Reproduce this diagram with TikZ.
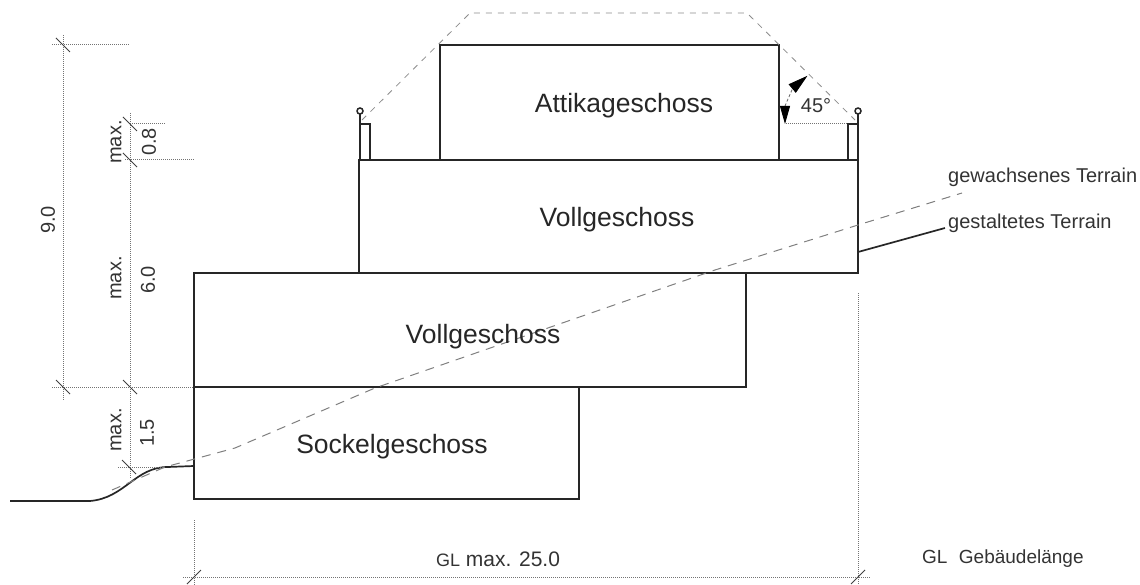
\documentclass[tikz,border=0pt]{standalone}
\usepackage{fontspec}
\setsansfont{Liberation Sans}
\tikzset{every picture/.style={/utils/exec={\sffamily}}}
\usetikzlibrary{arrows.meta}
\tikzset{
  wall/.style={line width=1.7pt, black!85},
  dimline/.style={line width=1pt, densely dotted, black!55},
  roofline/.style={line width=.8pt, dash pattern=on 6pt off 6pt, black!45},
  terrainline/.style={line width=1pt, dash pattern=on 9pt off 7pt, black!50},
  dimtick/.style={line width=1pt, black!75},
  bigtext/.style={font=\fontsize{26.5}{26.5}\selectfont, text=black!85},
  smalltext/.style={font=\fontsize{20}{20}\selectfont, text=black!80},
  dimtext/.style={font=\fontsize{20}{20}\selectfont, text=black!80, rotate=90}
}
\begin{document}
\begin{tikzpicture}[x=1pt, y=-1pt]
  \useasboundingbox (0,0) rectangle (1140,585);

  % storeys
  \draw [wall] (194,387) rectangle (579,499);
  \draw [wall] (194,273) rectangle (746,387);
  \draw [wall] (359,160) rectangle (858,273);
  \draw [wall] (440,45) rectangle (779,160);

  % parapets and posts
  \foreach \n in {360,848} \draw [line width=1.2pt, black!85] (\n,160) |- (\n+10,124) -- (\n+10,160);
  \foreach \n in {360,858} {
    \draw [line width=1.2pt, black!85] (\n,124) -- (\n,114);
    \draw [line width=1.5pt, black!85] (\n,111) circle [radius=3pt];
  }

  % terrain
  \draw [wall] (10,501) -- (90,501) .. controls (125,498) and (135,467) .. (168,467) -- (194,466);
  \coordinate (shaped) at (945,228);
  \draw [wall] (858,252) -- (shaped);
  \draw [terrainline] (112,490) -- (165,467) -- (235,448) -- (375,388) -- (715,270) -- (858,225) -- (962,193);

  % roof profile
  \draw [roofline] (362,120) -- (470,13) -- (747,13) -- (855,120);
  \draw [dimline] (786,124) -- (848,124);
  \draw [line width=.8pt, densely dashed, black!60, {Triangle[length=18pt,width=10pt,black]}-{Triangle[length=20pt,width=11pt,black]}]
    (785,124) arc [start angle=180, end angle=130, radius=63pt];

  % dimension lines
  \draw [dimline] (63,35) -- (63,400);
  \draw [dimline] (130,113) -- (130,478);
  \draw [dimline] (194,520) -- (194,585);
  \draw [dimline] (858,293) -- (858,585);
  \draw [dimline] (52,45) -- (130,45);
  \draw [dimline] (130,124) -- (165,124);
  \draw [dimline] (125,160) -- (195,160);
  \draw [dimline] (52,387) -- (194,387);
  \draw [dimline] (118,467) -- (165,467);
  \draw [dimline] (183,577) -- (870,577);

  \foreach \n in {(63,45),(130,124),(130,160),(63,387),(130,387),(129,467)}
    \draw [dimtick, shift={\n}] (-7,-7) -- (7,7);
  \foreach \n in {(194,577),(858,577)}
    \draw [dimtick, shift={\n}] (-7,7) -- (7,-7);

  % labels
  \node [bigtext] (attika) at (624,106) {Attikageschoss};
  \node [bigtext] (upper) at (617,220) {Vollgeschoss};
  \node [bigtext] (lower) at (483,337) {Vollgeschoss};
  \node [bigtext] (sockel) at (392,447) {Sockelgeschoss};

  \node [dimtext] (total) at (48,220) {9.0};
  \node [dimtext] (maxa) at (116,142) {max.};
  \node [dimtext] (parapet) at (149,142) {0.8};
  \node [dimtext] (maxb) at (116,278) {max.};
  \node [dimtext] (height) at (148,280) {6.0};
  \node [dimtext] (maxc) at (116,430) {max.};
  \node [dimtext] (base) at (147,433) {1.5};

  \node [smalltext] (angle) at (816,106) {45°};
  \node [smalltext, right, inner sep=0pt] (grown) at (948,177) {gewachsenes Terrain};
  \node [smalltext, right, inner sep=0pt] (designed) at (948,223) {gestaltetes Terrain};
  \node [smalltext, font=\fontsize{21}{21}\selectfont] (length) at (498,559) {{\fontsize{18}{18}\selectfont GL} max. 25.0};
  \node [smalltext, right, inner sep=0pt, font=\fontsize{19}{19}\selectfont] (legend) at (922,559) {GL\hspace{.6em}Gebäudelänge};

\end{tikzpicture}
\end{document}
